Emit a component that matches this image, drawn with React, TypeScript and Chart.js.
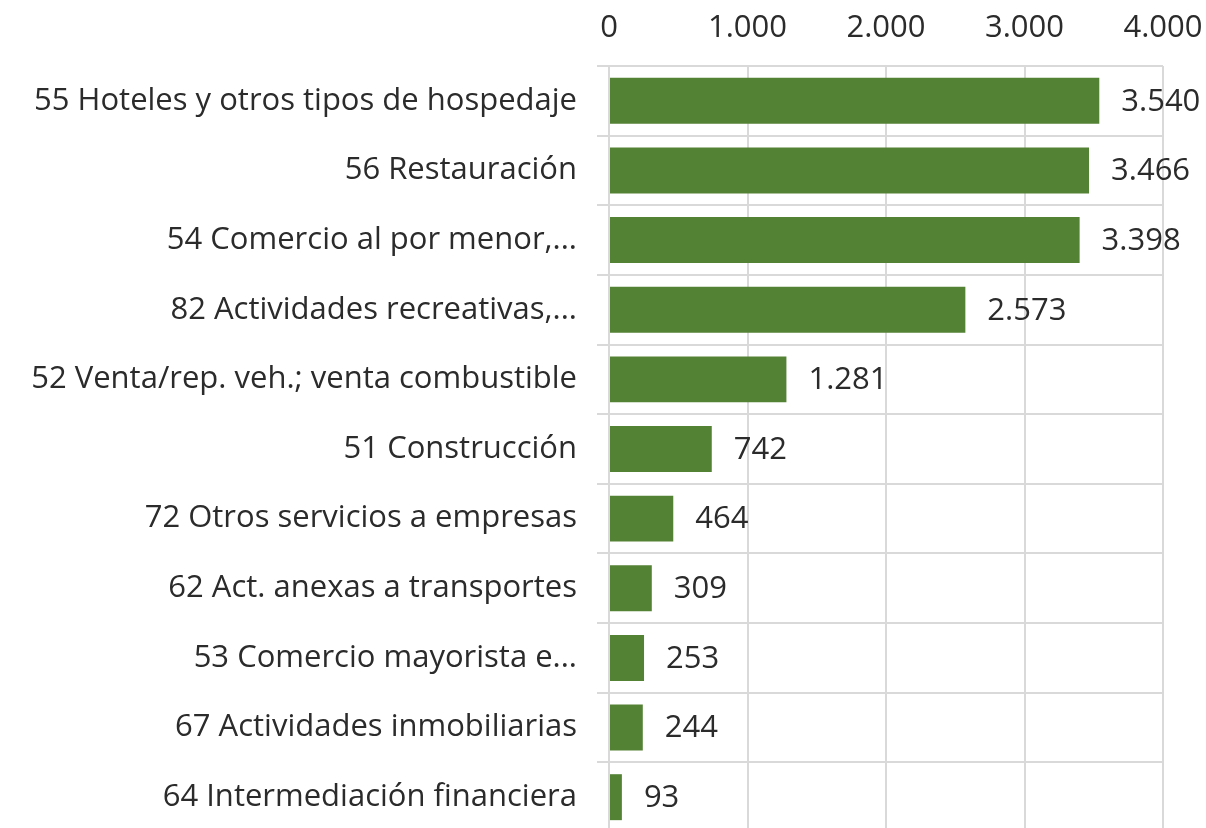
import React, { useEffect, useRef } from "react";
import { Chart, registerables } from "chart.js";

Chart.register(...registerables);

const categories = [
  "55 Hoteles y otros tipos de hospedaje",
  "56 Restauración",
  "54 Comercio al por menor,...",
  "82 Actividades recreativas,...",
  "52 Venta/rep. veh.; venta combustible",
  "51 Construcción",
  "72 Otros servicios a empresas",
  "62 Act. anexas a transportes",
  "53 Comercio mayorista e...",
  "67 Actividades inmobiliarias",
  "64 Intermediación financiera",
];
const values = [3540, 3466, 3398, 2573, 1281, 742, 464, 309, 253, 244, 93];
const xTicks = [0, 1000, 2000, 3000, 4000];

const FONT = "'Open Sans', sans-serif";
const FONT_SIZE = 31;
const TEXT = "#2b2b2b";
const GRID = "#d9d9d9";
const BAR = "#548235";

const fmt = (v: number) => String(Math.round(v)).replace(/\B(?=(\d{3})+(?!\d))/g, ".");

const labelPlugin = {
  id: "barValues",
  afterDatasetsDraw(chart: any) {
    const ctx = chart.ctx;
    const meta = chart.getDatasetMeta(0);
    ctx.save();
    ctx.font = `${FONT_SIZE}px ${FONT}`;
    ctx.fillStyle = TEXT;
    ctx.textAlign = "left";
    ctx.textBaseline = "middle";
    meta.data.forEach((el: any, i: number) => {
      ctx.fillText(fmt(values[i]), el.x + 22, el.y + 1);
    });
    ctx.restore();
  },
};

export default function App() {
  const ref = useRef<HTMLCanvasElement>(null);
  useEffect(() => {
    document.body.style.margin = "0";
    document.body.style.overflow = "hidden";
    const chart = new Chart(ref.current!, {
      type: "bar",
      data: {
        labels: categories,
        datasets: [
          {
            data: values,
            backgroundColor: BAR,
            barPercentage: 0.66,
            categoryPercentage: 1,
          },
        ],
      },
      options: {
        indexAxis: "y",
        animation: false,
        responsive: false,
        maintainAspectRatio: false,
        layout: { padding: { left: 0, right: 43, top: 0, bottom: 0 } },
        plugins: { legend: { display: false }, tooltip: { enabled: false } },
        scales: {
          x: {
            position: "top",
            min: 0,
            max: 4000,
            afterBuildTicks: (s: any) => {
              s.ticks = xTicks.map((v) => ({ value: v }));
            },
            afterFit: (s: any) => {
              s.height = 66;
              s.paddingLeft = 0;
              s.paddingRight = 0;
              s.paddingTop = 0;
              s.paddingBottom = 0;
            },
            grid: { color: GRID, lineWidth: 2, drawTicks: false },
            border: { display: false },
            ticks: {
              font: { family: FONT, size: FONT_SIZE },
              color: TEXT,
              padding: 19,
              maxRotation: 0,
              callback: (v: any) => fmt(Number(v)),
            },
          },
          y: {
            afterFit: (s: any) => {
              s.width = 609;
              s.paddingLeft = 0;
              s.paddingRight = 0;
              s.paddingTop = 0;
              s.paddingBottom = 0;
            },
            grid: { color: GRID, lineWidth: 2, offset: true, drawTicks: true, tickLength: 12 },
            border: { display: false },
            ticks: {
              font: { family: FONT, size: FONT_SIZE },
              color: TEXT,
              padding: 20,
              autoSkip: false,
            },
          },
        },
      },
      plugins: [labelPlugin],
    });
    return () => chart.destroy();
  }, []);
  return (
    <div style={{ position: "fixed", left: 0, top: 0, width: 1206, height: 832 }}>
      <canvas ref={ref} width={1206} height={832} style={{ width: 1206, height: 832 }} />
    </div>
  );
}
